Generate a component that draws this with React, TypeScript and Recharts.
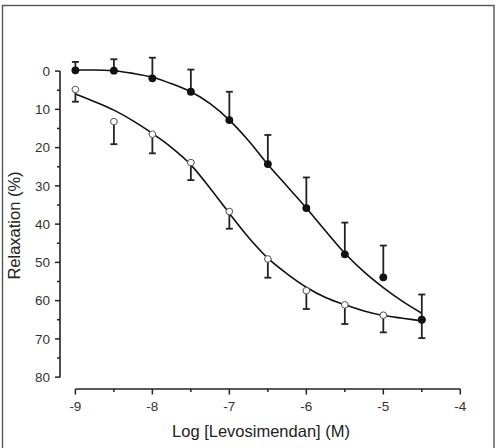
import React from 'react';
import { ComposedChart, XAxis, YAxis, Scatter, Line, ErrorBar, ReferenceLine } from 'recharts';

// Concentrations (log M) at which relaxation was measured
const doses = [-9, -8.5, -8, -7.5, -7, -6.5, -6, -5.5, -5, -4.5];

// Filled circles: mean relaxation (%) and SEM (drawn upward only)
const filledMean = [-0.2, -0.1, 1.9, 5.4, 12.8, 24.3, 35.8, 47.9, 53.9, 65.0];
const filledSem = [2.2, 3.0, 5.4, 5.8, 7.4, 7.6, 8.0, 8.3, 8.3, 6.6];

// Open circles: mean relaxation (%) and SEM (drawn downward only)
const openMean = [4.8, 13.2, 16.5, 23.9, 36.7, 49.1, 57.4, 61.1, 63.8, 65.0];
const openSem = [3.2, 5.9, 5.0, 4.6, 4.5, 4.9, 4.8, 5.0, 4.5, 4.8];

// Fitted concentration-response curves
const fitDoses = [-9, -8.75, -8.5, -8.25, -8, -7.75, -7.5, -7.25, -7, -6.75, -6.5, -6.25, -6, -5.75, -5.5, -5.25, -5, -4.75, -4.5];
const filledFit = [-0.3, -0.3, -0.1, 0.6, 1.6, 3.3, 5.4, 8.5, 12.8, 18.2, 24.4, 30.1, 35.8, 41.8, 47.6, 52.5, 56.6, 60.2, 63.3];
const openFit = [6.0, 8.0, 10.2, 13.0, 16.3, 20.0, 24.5, 30.6, 37.2, 43.5, 48.9, 53.0, 56.5, 59.2, 61.1, 62.7, 63.9, 64.6, 65.3];

// Axis ticks (majors get labels, minors are short marks)
const xTicks = [-9, -8.5, -8, -7.5, -7, -6.5, -6, -5.5, -5, -4.5, -4];
const yTicks = [0, 5, 10, 15, 20, 25, 30, 35, 40, 45, 50, 55, 60, 65, 70, 75, 80];

const X_MIN = -9.2;
const X_MAX = -4;
const Y_MIN = -8;
const Y_MAX = 83.1;

const FONT = '"Liberation Sans", Arial, sans-serif';
const INK = '#222';

const filledPoints = doses.map((x, i) => ({ x, y: filledMean[i], err: [filledSem[i], 0] }));
const openPoints = doses.map((x, i) => ({ x, y: openMean[i], err: [0, openSem[i]] }));
const filledCurve = fitDoses.map((x, i) => ({ x, y: filledFit[i] }));
const openCurve = fitDoses.map((x, i) => ({ x, y: openFit[i] }));

const XTick = (props: any) => {
  const { x, y, payload } = props;
  const v = payload.value as number;
  const major = Number.isInteger(v);
  return (
    <g>
      <line x1={x} y1={y} x2={x} y2={y + (major ? 5.5 : 3)} stroke={INK} strokeWidth={1.5} />
      {major && (
        <text x={x} y={y + 22} textAnchor="middle" fontFamily={FONT} fontSize={13.5} fill="#333">
          {v}
        </text>
      )}
    </g>
  );
};

const YTick = (props: any) => {
  const { x, y, payload } = props;
  const v = payload.value as number;
  const major = v % 10 === 0;
  return (
    <g>
      <line x1={x} y1={y} x2={x - (major ? 5 : 3)} y2={y} stroke={INK} strokeWidth={1.5} />
      {major && (
        <text x={x - 10} y={y + 4.8} textAnchor="end" fontFamily={FONT} fontSize={13.5} fill="#333">
          {v}
        </text>
      )}
    </g>
  );
};

const hidden = () => <g />;
const filledDot = (p: any) => <circle cx={p.cx} cy={p.cy} r={3.9} fill="#111" />;
const openDot = (p: any) => <circle cx={p.cx} cy={p.cy} r={3.3} fill="#fff" stroke="#555" strokeWidth={1} />;

export default function App() {
  return (
    <div style={{ position: 'absolute', left: 0, top: 0, width: 495, height: 448, background: '#fff', overflow: 'hidden' }}>
      <ComposedChart
        width={495}
        height={448}
        margin={{ top: 40.5, right: 34.7, bottom: 0, left: 0 }}
      >
        <XAxis
          type="number"
          dataKey="x"
          domain={[X_MIN, X_MAX]}
          ticks={xTicks}
          allowDataOverflow
          height={59}
          axisLine={false}
          tickLine={false}
          tickSize={0}
          tickMargin={0}
          tick={<XTick />}
          interval={0}
        />
        <YAxis
          type="number"
          dataKey="y"
          domain={[Y_MIN, Y_MAX]}
          reversed
          ticks={yTicks}
          allowDataOverflow
          width={60}
          axisLine={false}
          tickLine={false}
          tickSize={0}
          tickMargin={0}
          tick={<YTick />}
          interval={0}
        />
        <ReferenceLine
          segment={[{ x: X_MIN, y: 0 }, { x: X_MIN, y: 80 }]}
          stroke={INK}
          strokeWidth={1.6}
          ifOverflow="visible"
        />
        <ReferenceLine
          segment={[{ x: -9, y: Y_MAX }, { x: -4, y: Y_MAX }]}
          stroke={INK}
          strokeWidth={1.6}
          ifOverflow="visible"
        />
        <Line data={filledCurve} dataKey="y" type="monotone" stroke="#111" strokeWidth={1.6} dot={false} isAnimationActive={false} />
        <Line data={openCurve} dataKey="y" type="monotone" stroke="#111" strokeWidth={1.6} dot={false} isAnimationActive={false} />
        <Scatter data={filledPoints} dataKey="y" shape={hidden} isAnimationActive={false}>
          <ErrorBar dataKey="err" direction="y" width={3.5} stroke={INK} strokeWidth={1.8} isAnimationActive={false} />
        </Scatter>
        <Scatter data={openPoints} dataKey="y" shape={hidden} isAnimationActive={false}>
          <ErrorBar dataKey="err" direction="y" width={3.5} stroke={INK} strokeWidth={1.8} isAnimationActive={false} />
        </Scatter>
        <Scatter data={openPoints} dataKey="y" shape={openDot} isAnimationActive={false} />
        <Scatter data={filledPoints} dataKey="y" shape={filledDot} isAnimationActive={false} />
      </ComposedChart>
      <svg width={495} height={448} style={{ position: 'absolute', left: 0, top: 0, pointerEvents: 'none' }}>
        <rect x={2.5} y={5.5} width={491.5} height={450} fill="none" stroke="#555" strokeWidth={1.4} />
        <text x={261} y={436.5} textAnchor="middle" fontFamily={FONT} fontSize={16.5} fill={INK}>
          Log [Levosimendan] (M)
        </text>
        <text
          x={20}
          y={225.5}
          textAnchor="middle"
          fontFamily={FONT}
          fontSize={16.5}
          fill={INK}
          transform="rotate(-90 20 225.5)"
        >
          Relaxation (%)
        </text>
      </svg>
    </div>
  );
}
